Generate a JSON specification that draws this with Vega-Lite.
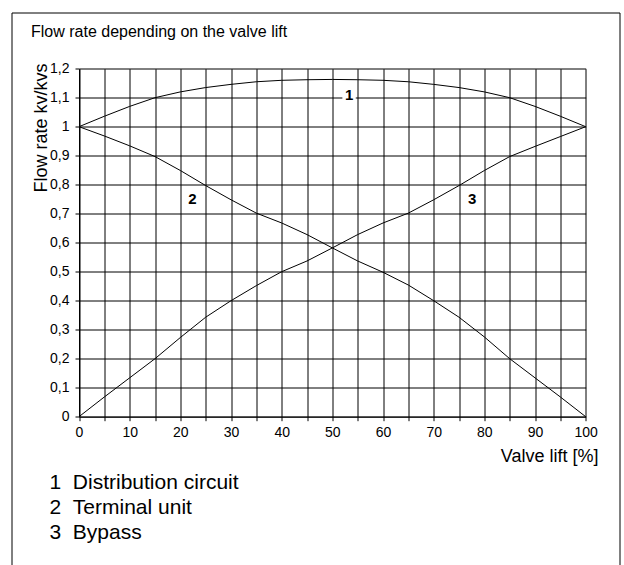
{
  "$schema": "https://vega.github.io/schema/vega-lite/v6.json",
  "autosize": {"type": "none"},
  "width": 608,
  "height": 554,
  "padding": {"left": 11.5, "top": 12.5, "right": 4.5, "bottom": -1.5},
  "background": "white",
  "title": {
    "text": "Flow rate depending on the valve lift",
    "anchor": "start",
    "frame": "group",
    "offset": 0,
    "dx": 19.5,
    "dy": 40,
    "baseline": "alphabetic",
    "fontSize": 16,
    "fontWeight": "normal",
    "font": "Liberation Sans",
    "color": "#000"
  },
  "config": {
    "view": {"stroke": "#000", "strokeWidth": 1},
    "font": "Liberation Sans"
  },
  "datasets": {
    "curves": [
      {"series": "Distribution circuit", "x": 0, "y": 1.0},
      {"series": "Distribution circuit", "x": 5, "y": 1.036},
      {"series": "Distribution circuit", "x": 10, "y": 1.07},
      {"series": "Distribution circuit", "x": 15, "y": 1.1},
      {"series": "Distribution circuit", "x": 20, "y": 1.12},
      {"series": "Distribution circuit", "x": 25, "y": 1.135},
      {"series": "Distribution circuit", "x": 30, "y": 1.146},
      {"series": "Distribution circuit", "x": 35, "y": 1.155},
      {"series": "Distribution circuit", "x": 40, "y": 1.16},
      {"series": "Distribution circuit", "x": 45, "y": 1.162},
      {"series": "Distribution circuit", "x": 50, "y": 1.163},
      {"series": "Distribution circuit", "x": 55, "y": 1.162},
      {"series": "Distribution circuit", "x": 60, "y": 1.16},
      {"series": "Distribution circuit", "x": 65, "y": 1.155},
      {"series": "Distribution circuit", "x": 70, "y": 1.146},
      {"series": "Distribution circuit", "x": 75, "y": 1.135},
      {"series": "Distribution circuit", "x": 80, "y": 1.12},
      {"series": "Distribution circuit", "x": 85, "y": 1.1},
      {"series": "Distribution circuit", "x": 90, "y": 1.07},
      {"series": "Distribution circuit", "x": 95, "y": 1.036},
      {"series": "Distribution circuit", "x": 100, "y": 1.0},
      {"series": "Terminal unit", "x": 0, "y": 1.0},
      {"series": "Terminal unit", "x": 5, "y": 0.968},
      {"series": "Terminal unit", "x": 10, "y": 0.934},
      {"series": "Terminal unit", "x": 15, "y": 0.897},
      {"series": "Terminal unit", "x": 20, "y": 0.849},
      {"series": "Terminal unit", "x": 25, "y": 0.797},
      {"series": "Terminal unit", "x": 30, "y": 0.748},
      {"series": "Terminal unit", "x": 35, "y": 0.702},
      {"series": "Terminal unit", "x": 40, "y": 0.668},
      {"series": "Terminal unit", "x": 45, "y": 0.628},
      {"series": "Terminal unit", "x": 50, "y": 0.582},
      {"series": "Terminal unit", "x": 55, "y": 0.537},
      {"series": "Terminal unit", "x": 60, "y": 0.498},
      {"series": "Terminal unit", "x": 65, "y": 0.454},
      {"series": "Terminal unit", "x": 70, "y": 0.4},
      {"series": "Terminal unit", "x": 75, "y": 0.343},
      {"series": "Terminal unit", "x": 80, "y": 0.275},
      {"series": "Terminal unit", "x": 85, "y": 0.2},
      {"series": "Terminal unit", "x": 90, "y": 0.134},
      {"series": "Terminal unit", "x": 95, "y": 0.068},
      {"series": "Terminal unit", "x": 100, "y": 0.0},
      {"series": "Bypass", "x": 0, "y": 0.0},
      {"series": "Bypass", "x": 5, "y": 0.068},
      {"series": "Bypass", "x": 10, "y": 0.134},
      {"series": "Bypass", "x": 15, "y": 0.2},
      {"series": "Bypass", "x": 20, "y": 0.273},
      {"series": "Bypass", "x": 25, "y": 0.343},
      {"series": "Bypass", "x": 30, "y": 0.4},
      {"series": "Bypass", "x": 35, "y": 0.452},
      {"series": "Bypass", "x": 40, "y": 0.5},
      {"series": "Bypass", "x": 45, "y": 0.537},
      {"series": "Bypass", "x": 50, "y": 0.582},
      {"series": "Bypass", "x": 55, "y": 0.628},
      {"series": "Bypass", "x": 60, "y": 0.668},
      {"series": "Bypass", "x": 65, "y": 0.702},
      {"series": "Bypass", "x": 70, "y": 0.748},
      {"series": "Bypass", "x": 75, "y": 0.797},
      {"series": "Bypass", "x": 80, "y": 0.849},
      {"series": "Bypass", "x": 85, "y": 0.897},
      {"series": "Bypass", "x": 90, "y": 0.932},
      {"series": "Bypass", "x": 95, "y": 0.966},
      {"series": "Bypass", "x": 100, "y": 1.0}
    ],
    "labels": [
      {"label": "1", "x": 53.3, "y": 1.108},
      {"label": "2", "x": 22.4, "y": 0.751},
      {"label": "3", "x": 77.6, "y": 0.751}
    ]
  },
  "layer": [
    {
      "data": {"name": "curves"},
      "mark": {"type": "line", "interpolate": "linear", "strokeWidth": 1, "clip": false},
      "encoding": {
        "x": {
          "field": "x", "type": "quantitative",
          "scale": {"domain": [0, 100], "range": [67.5, 574.2], "nice": false, "zero": false},
          "axis": {
            "orient": "bottom", "offset": -149.8, "grid": false,
            "values": [0, 5, 10, 15, 20, 25, 30, 35, 40, 45, 50, 55, 60, 65, 70, 75, 80, 85, 90, 95, 100],
            "labelExpr": "datum.value % 10 === 0 ? datum.label : ''",
            "labelFlush": false, "labelOverlap": false,
            "domainColor": "#000", "domainWidth": 1,
            "tickColor": "#000", "tickSize": 4, "tickWidth": 1,
            "labelFontSize": 14, "labelColor": "#000", "labelPadding": 5, "labelFont": "Liberation Sans",
            "title": "Valve lift [%]", "titleFontSize": 18, "titleFontWeight": "normal", "titleColor": "#000",
            "titleFont": "Liberation Sans",
            "titleX": 586.5, "titleY": 45, "titleAlign": "right", "titleBaseline": "alphabetic"
          }
        },
        "y": {
          "field": "y", "type": "quantitative",
          "scale": {"domain": [0, 1.2], "range": [404.2, 56.2], "nice": false, "zero": false},
          "axis": {
            "orient": "left", "offset": -67.5, "grid": true,
            "gridColor": "#000", "gridOpacity": 1, "gridWidth": 1,
            "values": [0, 0.1, 0.2, 0.3, 0.4, 0.5, 0.6, 0.7, 0.8, 0.9, 1, 1.1, 1.2],
            "labelExpr": "replace(format(datum.value, '.1~f'), '.', ',')",
            "labelOverlap": false, "labelFlush": false,
            "domainColor": "#000", "domainWidth": 1,
            "tickColor": "#000", "tickSize": 4, "tickWidth": 1,
            "labelFontSize": 14, "labelColor": "#000", "labelPadding": 6, "labelFont": "Liberation Sans",
            "title": "Flow rate kv/kvs", "titleFontSize": 18, "titleFontWeight": "normal", "titleColor": "#000",
            "titleFont": "Liberation Sans",
            "titleAngle": -90, "titleX": -33, "titleY": 50.5, "titleAlign": "right", "titleBaseline": "alphabetic"
          }
        },
        "color": {
          "field": "series", "type": "nominal",
          "scale": {"domain": ["Distribution circuit", "Terminal unit", "Bypass"], "range": ["#000", "#000", "#000"]},
          "legend": {
            "orient": "none", "legendX": 17, "legendY": 460,
            "title": null, "padding": 0,
            "symbolSize": 0, "symbolStrokeWidth": 0, "symbolOpacity": 0,
            "labelOffset": 0, "labelFontSize": 21, "labelFont": "Liberation Sans", "labelColor": "#000",
            "labelLimit": 500, "rowPadding": 3,
            "labelExpr": "(indexof(['Distribution circuit','Terminal unit','Bypass'], datum.label) + 1) + '\u00a0\u00a0' + datum.label"
          }
        }
      }
    },
    {
      "data": {"name": "labels"},
      "transform": [{"filter": "datum.label === '1'"}],
      "mark": {"type": "point", "shape": "square", "filled": true, "color": "white", "opacity": 1, "size": 180, "strokeWidth": 0},
      "encoding": {
        "x": {
          "field": "x", "type": "quantitative",
          "axis": {"orient": "top", "grid": true, "gridColor": "#000", "gridOpacity": 1, "gridWidth": 1,
                   "domain": false, "ticks": false, "labels": false, "title": null,
                   "values": [0, 5, 10, 15, 20, 25, 30, 35, 40, 45, 50, 55, 60, 65, 70, 75, 80, 85, 90, 95, 100]}
        },
        "y": {"field": "y", "type": "quantitative"}
      }
    },
    {
      "data": {"name": "labels"},
      "mark": {"type": "text", "font": "Liberation Sans", "fontWeight": "bold", "fontSize": 15, "color": "#000", "align": "center", "baseline": "middle"},
      "encoding": {
        "x": {"field": "x", "type": "quantitative", "axis": null},
        "y": {"field": "y", "type": "quantitative"},
        "text": {"field": "label"}
      }
    }
  ]
}
